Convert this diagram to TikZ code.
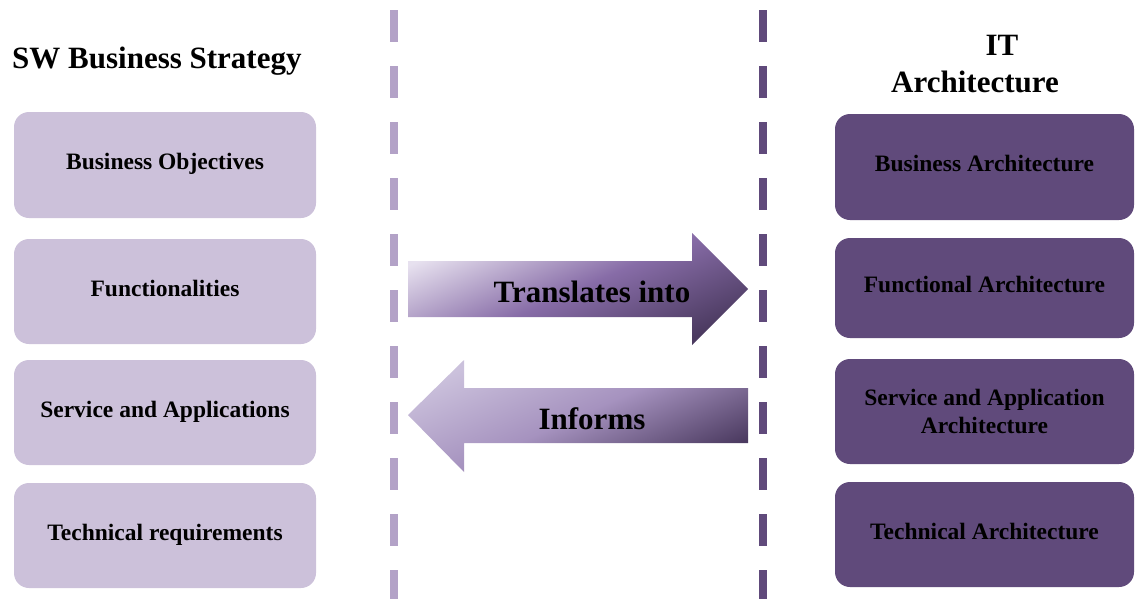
\documentclass[tikz,border=0pt]{standalone}
\usepackage{fontspec}
\setmainfont{Liberation Serif}
\definecolor{lilac}{HTML}{CCC1DA}
\definecolor{plum}{HTML}{604A7B}
\definecolor{lilacdash}{HTML}{B3A2C7}
\definecolor{paleviolet}{HTML}{E7E1EF}
\definecolor{midviolet}{HTML}{876CA7}
\definecolor{deepviolet}{HTML}{4B3A60}
\definecolor{softviolet}{HTML}{CBC1DC}
\begin{document}
\begin{tikzpicture}[x=1pt, y=-1pt,
  boxtext/.style={font={\fontsize{23.5}{28}\selectfont\bfseries}, text=black, align=center},
  lbox/.style={boxtext, fill=lilac, rounded corners=15pt, minimum width=302pt, inner sep=0pt,
               text height=15pt, text depth=6pt},
  rbox/.style={boxtext, fill=plum, rounded corners=15pt, minimum width=299pt, inner sep=0pt,
               text height=15pt, text depth=6pt},
  rboxtwo/.style={boxtext, fill=plum, rounded corners=15pt, minimum width=299pt, inner sep=0pt},
  heading/.style={font={\fontsize{31}{36}\selectfont\bfseries}, inner sep=0pt},
  arrowtext/.style={font={\fontsize{31}{36}\selectfont\bfseries}, inner sep=0pt},
  divider/.style={line width=8pt, dash pattern=on 32pt off 24pt}]

\useasboundingbox (0,0) rectangle (1135,598);

% vertical dividers
\draw[divider, lilacdash] (394,10) -- (394,600);
\draw[divider, plum] (763,10) -- (763,600);

% column headings
\node[heading, anchor=base west] (hleft) at (12,68) {SW Business Strategy};
\node[heading, anchor=base] (hit) at (1002,55) {IT};
\node[heading, anchor=base] (harch) at (975,92) {Architecture};

% strategy column
\node[lbox, minimum height=106pt] (obj) at (165,165) {Business Objectives};
\node[lbox, minimum height=105pt] (fun) at (165,291.5) {Functionalities};
\node[lbox, minimum height=105pt] (svc) at (165,412.5) {Service and Applications};
\node[lbox, minimum height=105pt] (tec) at (165,535.5) {Technical requirements};

% architecture column
\node[rbox, minimum height=106pt] (barch) at (984.5,167) {Business Architecture};
\node[rbox, minimum height=100pt] (farch) at (984.5,288) {Functional Architecture};
\node[rboxtwo, minimum height=105pt] (sarch) at (984.5,411.5) {Service and Application\\Architecture};
\node[rbox, minimum height=105pt] (tarch) at (984.5,534.5) {Technical Architecture};

% block arrows
\shade[left color=paleviolet, right color=deepviolet, middle color=midviolet, shading angle=24]
  (408,261) -- (692,261) -- (692,233) -- (748,289) -- (692,345) -- (692,317) -- (408,317) -- cycle;
\shade[left color=softviolet, right color=deepviolet, middle color=softviolet!45!midviolet, shading angle=24]
  (408,415) -- (464,360) -- (464,388) -- (748,388) -- (748,443) -- (464,443) -- (464,472) -- cycle;

\node[arrowtext] (translates) at (592,292) {Translates into};
\node[arrowtext] (informs) at (592,419) {Informs};
\end{tikzpicture}
\end{document}
